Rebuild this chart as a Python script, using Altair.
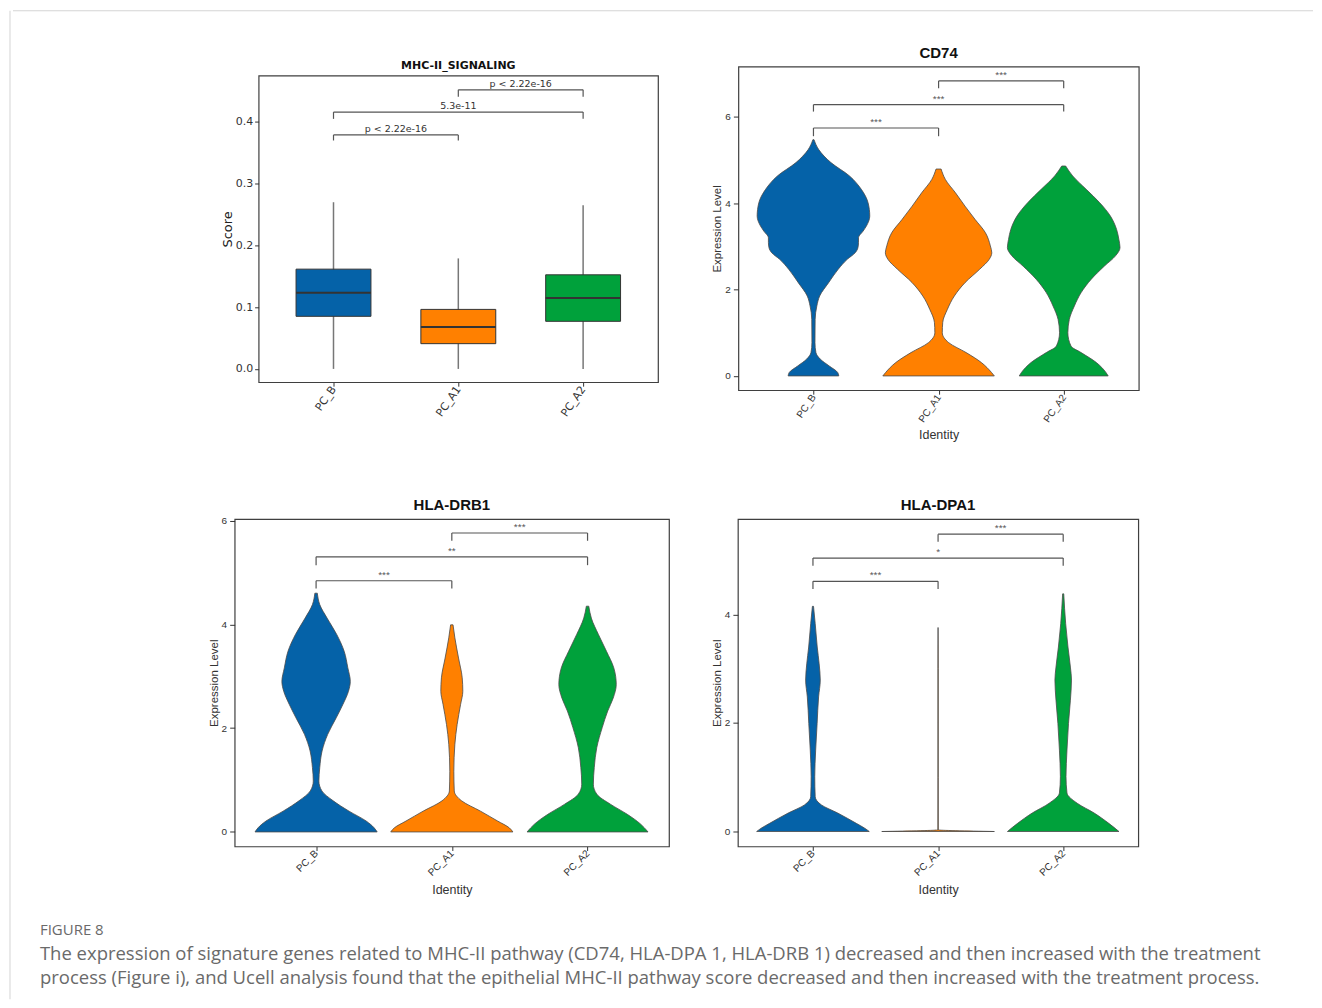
import json
import altair as alt
import pandas as pd

# ---------------- data ----------------
groups = ["PC_B", "PC_A1", "PC_A2"]
group_colors = ["#0562A8", "#FF8000", "#00A13B"]

# MHC-II_SIGNALING (UCell score) box plot statistics
score_min = [0.0, 0.0, 0.0]
score_q1 = [0.0852, 0.0409, 0.0771]
score_median = [0.1233, 0.0679, 0.1147]
score_q3 = [0.1616, 0.0964, 0.1524]
score_max = [0.270, 0.179, 0.265]

# comparison brackets (same pairs in every panel)
pair_from = ["PC_B", "PC_B", "PC_A1"]
pair_to = ["PC_A1", "PC_A2", "PC_A2"]

score_bracket_y = [0.379, 0.416, 0.452]
score_bracket_tip = [0.370, 0.405, 0.441]
score_bracket_label = ["p < 2.22e-16", "5.3e-11", "p < 2.22e-16"]

cd74_bracket_y = [5.74, 6.28, 6.83]
cd74_bracket_tip = [5.55, 6.12, 6.66]
cd74_bracket_label = ["***", "***", "***"]

drb1_bracket_y = [4.84, 5.30, 5.76]
drb1_bracket_tip = [4.69, 5.14, 5.61]
drb1_bracket_label = ["***", "**", "***"]

dpa1_bracket_y = [4.61, 5.04, 5.48]
dpa1_bracket_tip = [4.47, 4.90, 5.34]
dpa1_bracket_label = ["***", "*", "***"]

# violin profiles: expression level and relative density (violins scaled to equal width)
cd74_pcb_level = [0.0, 0.08, 0.23, 0.39, 0.54, 0.77, 1.31, 1.62, 1.85, 2.16, 2.47, 2.70, 2.85, 2.97,
                  3.09, 3.20, 3.35, 3.47, 3.70, 4.01, 4.32, 4.63, 4.94, 5.24, 5.47]
cd74_pcb_density = [0.45, 0.43, 0.28, 0.12, 0.044, 0.027, 0.03, 0.06, 0.11, 0.27, 0.44, 0.60, 0.74, 0.79,
                    0.80, 0.80, 0.88, 0.94, 1.0, 0.97, 0.85, 0.64, 0.31, 0.094, 0.01]
cd74_pca1_level = [0.0, 0.08, 0.31, 0.54, 0.77, 1.00, 1.24, 1.54, 1.85, 2.16, 2.47, 2.70, 2.85, 3.01,
                   3.32, 3.62, 3.93, 4.24, 4.55, 4.79]
cd74_pca1_density = [0.99, 0.94, 0.76, 0.49, 0.18, 0.066, 0.074, 0.156, 0.28, 0.47, 0.73, 0.90, 0.945, 0.92,
                     0.83, 0.65, 0.47, 0.30, 0.12, 0.045]
cd74_pca2_level = [0.0, 0.08, 0.31, 0.54, 0.69, 1.00, 1.31, 1.62, 1.93, 2.24, 2.54, 2.78, 2.97, 3.16,
                   3.39, 3.70, 4.01, 4.32, 4.63, 4.86]
cd74_pca2_density = [0.79, 0.75, 0.58, 0.31, 0.13, 0.074, 0.10, 0.19, 0.31, 0.49, 0.72, 0.92, 1.0, 0.98,
                     0.94, 0.83, 0.64, 0.40, 0.16, 0.035]

drb1_pcb_level = [0.0, 0.08, 0.21, 0.40, 0.60, 0.79, 0.98, 1.24, 1.56, 1.88, 2.20, 2.46, 2.71, 2.90,
                  3.16, 3.48, 3.80, 4.12, 4.38, 4.60]
drb1_pcb_density = [1.0, 0.95, 0.82, 0.54, 0.28, 0.095, 0.046, 0.06, 0.098, 0.19, 0.33, 0.44, 0.53, 0.56,
                    0.52, 0.46, 0.34, 0.18, 0.06, 0.02]
drb1_pca1_level = [0.0, 0.08, 0.21, 0.40, 0.60, 0.79, 1.17, 1.69, 2.07, 2.46, 2.71, 2.97, 3.35, 3.74, 3.99]
drb1_pca1_density = [1.0, 0.94, 0.75, 0.47, 0.16, 0.04, 0.033, 0.05, 0.087, 0.144, 0.18, 0.17, 0.11, 0.05, 0.02]
drb1_pca2_level = [0.0, 0.15, 0.34, 0.53, 0.73, 0.92, 1.24, 1.62, 2.01, 2.33, 2.58, 2.84, 3.16, 3.48,
                   3.80, 4.12, 4.35]
drb1_pca2_density = [0.99, 0.87, 0.65, 0.38, 0.15, 0.095, 0.11, 0.15, 0.24, 0.33, 0.42, 0.47, 0.43, 0.31,
                     0.18, 0.062, 0.02]

dpa1_pcb_level = [0.0, 0.06, 0.15, 0.34, 0.49, 0.64, 1.01, 1.50, 1.99, 2.48, 2.79, 3.09, 3.40, 3.83, 4.15]
dpa1_pcb_density = [1.0, 0.92, 0.77, 0.44, 0.15, 0.04, 0.032, 0.048, 0.074, 0.10, 0.13, 0.11, 0.076, 0.04, 0.01]
dpa1_pca1_level = [0.0, 0.03, 1.0, 2.0, 3.0, 3.76]
dpa1_pca1_density = [1.0, 0.004, 0.003, 0.003, 0.003, 0.0]
dpa1_pca2_level = [0.0, 0.15, 0.34, 0.52, 0.71, 1.01, 1.50, 1.99, 2.42, 2.79, 3.03, 3.40, 3.83, 4.38]
dpa1_pca2_density = [0.99, 0.81, 0.55, 0.25, 0.067, 0.05, 0.067, 0.094, 0.128, 0.147, 0.128, 0.085, 0.044, 0.01]

caption_head = "FIGURE 8"
caption_lines = [
    "The expression of signature genes related to MHC-II pathway (CD74, HLA-DPA 1, HLA-DRB 1) decreased and then increased with the treatment",
    "process (Figure i), and Ucell analysis found that the epithelial MHC-II pathway score decreased and then increased with the treatment process.",
]

# ---------------- helpers ----------------
X_DOMAIN = [0.4, 3.6]
HALF_VIOLIN = 0.45
HALF_BOX = 0.3
FRAME = "#3f3f3f"
label_expr = json.dumps(groups) + "[datum.value - 1]"
color_enc = alt.Color("grp:N", scale=alt.Scale(domain=groups, range=group_colors), legend=None)


def gidx(g):
    return groups.index(g) + 1


def spacer(w, h):
    return (alt.Chart(pd.DataFrame({"s": [0]}))
            .mark_point(opacity=0, size=0)
            .encode(x=alt.value(0), y=alt.value(0))
            .properties(width=w, height=h))


def bracket_frame(ys, tips, labels):
    return pd.DataFrame({
        "x1": [gidx(a) for a in pair_from],
        "x2": [gidx(b) for b in pair_to],
        "y": ys, "tip": tips, "label": labels,
    })


def bracket_layers(df, xs, xax, ys, yax, font, fsize, tcolor):
    base = alt.Chart(df).transform_calculate(xm="(datum.x1 + datum.x2) / 2")
    rule_kw = dict(color="#555555", strokeWidth=1.2)
    hor = base.mark_rule(**rule_kw).encode(
        x=alt.X("x1:Q", scale=xs, axis=xax), x2="x2:Q",
        y=alt.Y("y:Q", scale=ys, axis=yax))
    left = base.mark_rule(**rule_kw).encode(
        x=alt.X("x1:Q", scale=xs, axis=xax),
        y=alt.Y("tip:Q", scale=ys, axis=yax), y2="y:Q")
    right = base.mark_rule(**rule_kw).encode(
        x=alt.X("x2:Q", scale=xs, axis=xax),
        y=alt.Y("tip:Q", scale=ys, axis=yax), y2="y:Q")
    txt = base.mark_text(baseline="bottom", dy=-1, font=font, fontSize=fsize, color=tcolor).encode(
        x=alt.X("xm:Q", scale=xs, axis=xax),
        y=alt.Y("y:Q", scale=ys, axis=yax), text="label:N")
    return [hor, left, right, txt]


def x_axis(font, fsize, angle, title, title_pad):
    kw = dict(values=[1, 2, 3], labelExpr=label_expr, labelAngle=angle, labelAlign="right",
              labelBaseline="middle", labelFont=font, labelFontSize=fsize, labelColor="#333333",
              tickColor="#333333", tickSize=4, labelPadding=1, domain=False, grid=False)
    if title:
        kw.update(title=title, titleFont=font, titleFontSize=12.5, titleFontWeight="normal",
                  titleColor="#333333", titlePadding=title_pad)
    else:
        kw.update(title=None)
    return alt.Axis(**kw)


def violin_panel(title, profiles, ys_list, tips, labels, ydomain, yticks, w, h, angle, tpad, toff):
    rows = []
    for g, (lv, dn) in profiles.items():
        for l, d in zip(lv, dn):
            rows.append({"grp": g, "pos": gidx(g), "level": l, "dens": d})
    vdf = pd.DataFrame(rows)
    font = "Liberation Sans"
    xs = alt.Scale(domain=X_DOMAIN, nice=False, zero=False)
    ys = alt.Scale(domain=ydomain, nice=False, zero=False)
    xax = x_axis(font, 10, angle, "Identity", tpad)
    yax = alt.Axis(values=yticks, format="d", labelFont=font, labelFontSize=10, labelColor="#333333",
                   tickColor="#333333", tickSize=5, labelPadding=3, domain=False, grid=False,
                   title="Expression Level", titleFont=font, titleFontSize=11.5,
                   titleFontWeight="normal", titleColor="#333333", titlePadding=2)
    area = (alt.Chart(vdf)
            .transform_calculate(xl=f"datum.pos - datum.dens * {HALF_VIOLIN}",
                                 xr=f"datum.pos + datum.dens * {HALF_VIOLIN}")
            .mark_area(orient="horizontal", interpolate="monotone", stroke="#4a4a4a",
                       strokeWidth=0.8, opacity=1)
            .encode(y=alt.Y("level:Q", scale=ys, axis=yax),
                    x=alt.X("xl:Q", scale=xs, axis=xax), x2="xr:Q",
                    color=color_enc, detail="grp:N"))
    layers = [area] + bracket_layers(bracket_frame(ys_list, tips, labels), xs, xax, ys, yax,
                                     font, 10, "#555555")
    return alt.layer(*layers).properties(
        width=w, height=h,
        title=alt.TitleParams(text=title, font=font, fontSize=15, fontWeight="bold", color="#111111",
                              anchor="middle", baseline="top", offset=toff),
        view=alt.ViewBackground(stroke=FRAME, strokeWidth=1.2))


# ---------------- panel A: box plot ----------------
box_df = pd.DataFrame({
    "grp": groups, "pos": [1, 2, 3], "lo": score_min, "q1": score_q1,
    "med": score_median, "q3": score_q3, "hi": score_max,
})
dv = "DejaVu Sans"
xs1 = alt.Scale(domain=X_DOMAIN, nice=False, zero=False)
ys1 = alt.Scale(domain=[-0.0215, 0.475], nice=False, zero=False)
xax1 = x_axis(dv, 11, 305, None, 0)
yax1 = alt.Axis(values=[0.0, 0.1, 0.2, 0.3, 0.4], format=".1f", labelFont=dv, labelFontSize=11,
                labelColor="#333333", tickColor="#333333", tickSize=4, labelPadding=2,
                domain=False, grid=False, title="Score", titleFont=dv, titleFontSize=13,
                titleFontWeight="normal", titleColor="#222222", titlePadding=1)
box_base = alt.Chart(box_df).transform_calculate(
    bl=f"datum.pos - {HALF_BOX}", br=f"datum.pos + {HALF_BOX}")
whisker = box_base.mark_rule(color="#777777", strokeWidth=1.5).encode(
    x=alt.X("pos:Q", scale=xs1, axis=xax1),
    y=alt.Y("lo:Q", scale=ys1, axis=yax1), y2="hi:Q")
box = box_base.mark_bar(stroke="#333333", strokeWidth=1, opacity=1).encode(
    x=alt.X("bl:Q", scale=xs1, axis=xax1), x2="br:Q",
    y=alt.Y("q1:Q", scale=ys1, axis=yax1), y2="q3:Q", color=color_enc)
median = box_base.mark_rule(color="#333333", strokeWidth=2).encode(
    x=alt.X("bl:Q", scale=xs1, axis=xax1), x2="br:Q",
    y=alt.Y("med:Q", scale=ys1, axis=yax1))
p1 = alt.layer(
    whisker, box, median,
    *bracket_layers(bracket_frame(score_bracket_y, score_bracket_tip, score_bracket_label),
                    xs1, xax1, ys1, yax1, dv, 9.5, "#333333"),
).properties(
    width=400, height=307,
    title=alt.TitleParams(text="MHC-II_SIGNALING", font=dv, fontSize=11, fontWeight="bold",
                          color="#111111", anchor="middle", baseline="top", offset=5),
    view=alt.ViewBackground(stroke=FRAME, strokeWidth=1.2))

# ---------------- violin panels ----------------
p2 = violin_panel("CD74", {
    "PC_B": (cd74_pcb_level, cd74_pcb_density),
    "PC_A1": (cd74_pca1_level, cd74_pca1_density),
    "PC_A2": (cd74_pca2_level, cd74_pca2_density)},
    cd74_bracket_y, cd74_bracket_tip, cd74_bracket_label,
    [-0.33, 7.16], [0, 2, 4, 6], 401, 324, 305, 5, 6)

p3 = violin_panel("HLA-DRB1", {
    "PC_B": (drb1_pcb_level, drb1_pcb_density),
    "PC_A1": (drb1_pca1_level, drb1_pca1_density),
    "PC_A2": (drb1_pca2_level, drb1_pca2_density)},
    drb1_bracket_y, drb1_bracket_tip, drb1_bracket_label,
    [-0.28, 6.03], [0, 2, 4, 6], 435, 328, 315, 6, 3)

p4 = violin_panel("HLA-DPA1", {
    "PC_B": (dpa1_pcb_level, dpa1_pcb_density),
    "PC_A1": (dpa1_pca1_level, dpa1_pca1_density),
    "PC_A2": (dpa1_pca2_level, dpa1_pca2_density)},
    dpa1_bracket_y, dpa1_bracket_tip, dpa1_bracket_label,
    [-0.276, 5.76], [0, 2, 4], 401, 328, 315, 6, 6)

# ---------------- caption ----------------
cap_head_df = pd.DataFrame({"row": [0], "text": [caption_head]})
cap_body_df = pd.DataFrame({"row": [1, 2], "text": caption_lines})
cap_y = alt.Scale(type="point", domain=[0, 1, 2], padding=0.667)
cap_head = alt.Chart(cap_head_df).mark_text(
    align="left", baseline="middle", font="Open Sans", fontSize=15, color="#6a6a6a").encode(
    x=alt.value(27), y=alt.Y("row:O", scale=cap_y, axis=None), text="text:N")
cap_body = alt.Chart(cap_body_df).mark_text(
    align="left", baseline="middle", font="Open Sans", fontSize=18.5, color="#6a6a6a").encode(
    x=alt.value(27), y=alt.Y("row:O", scale=cap_y, axis=None), text="text:N")
caption = alt.layer(cap_head, cap_body).properties(width=1290, height=80)

# ---------------- frame lines ----------------
FRAME_LIGHT = "#d4d4d4"
left_rule = (alt.Chart(pd.DataFrame({"s": [0]}))
             .mark_rule(color=FRAME_LIGHT, strokeWidth=1)
             .encode(x=alt.value(0), y=alt.value(0), y2=alt.value(990))
             .properties(width=1, height=990))
top_rule = (alt.Chart(pd.DataFrame({"s": [0]}))
            .mark_rule(color=FRAME_LIGHT, strokeWidth=1)
            .encode(x=alt.value(0), x2=alt.value(1302), y=alt.value(0))
            .properties(width=1302, height=1))

# ---------------- layout ----------------
p1_stack = alt.vconcat(spacer(1, 14.7), p1, spacing=0)
p2_stack = alt.vconcat(spacer(1, 1), p2, spacing=0)
row1 = alt.hconcat(p1_stack, p2_stack, spacing=51.5)
row1w = alt.hconcat(spacer(206, 1), row1, spacing=0)
row2 = alt.hconcat(p3, p4, spacing=40)
row2w = alt.hconcat(spacer(193, 1), row2, spacing=0)
main = alt.vconcat(top_rule, spacer(1, 27), row1w, spacer(1, 52), row2w, spacer(1, 14), caption,
                   spacing=0)

chart = (alt.hconcat(left_rule, main, spacing=0)
         .properties(padding={"left": 1, "top": 1, "right": 0, "bottom": 0}, background="white")
         .configure_view(stroke="transparent"))

chart.save("out.html", embed_options={"renderer": "svg", "actions": False})
